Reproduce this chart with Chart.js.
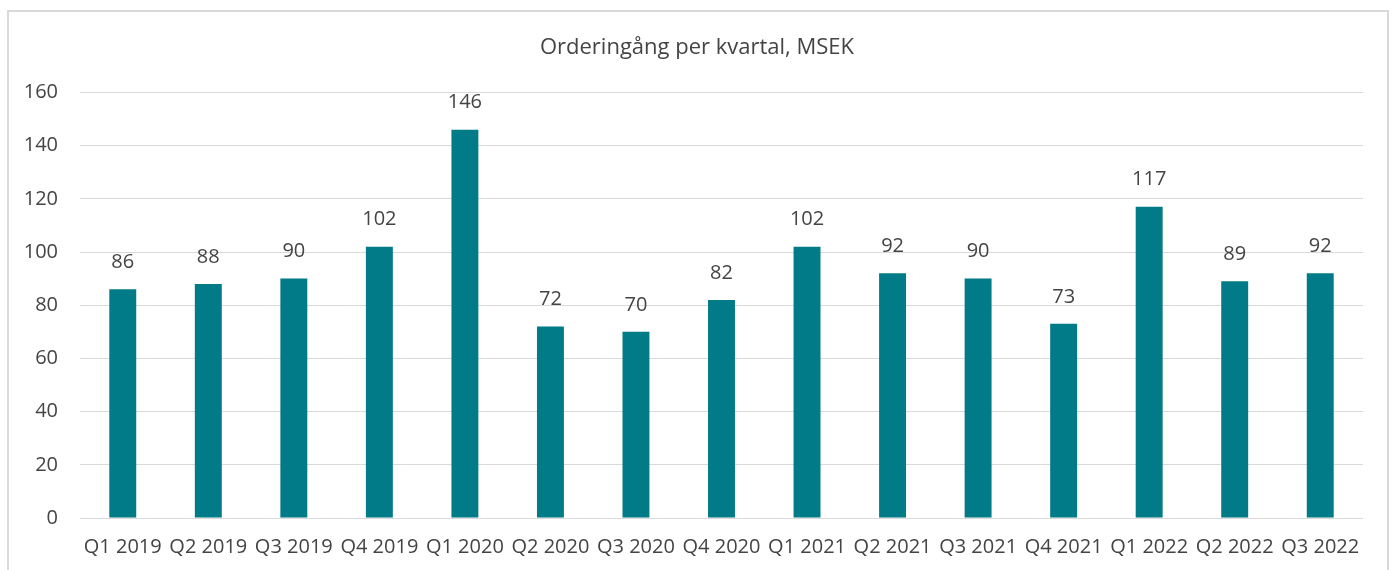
<!DOCTYPE html>
<html>
<head>
<meta charset="utf-8">
<script src="https://cdn.jsdelivr.net/npm/chart.js@4/dist/chart.umd.min.js"></script>
<style>
  html, body { margin: 0; padding: 0; background: #fff; }
  #wrap { position: relative; width: 1394px; height: 570px; }
  #frame { position: absolute; left: 7px; top: 10px; width: 1378px; height: 580px;
           border: 2px solid #d9d9d9; pointer-events: none; }
</style>
</head>
<body>
<div id="wrap">
  <canvas id="bar-chart" width="1394" height="570"></canvas>
  <div id="frame"></div>
</div>
<script>
// data
const quarters = ["Q1 2019", "Q2 2019", "Q3 2019", "Q4 2019",
    "Q1 2020", "Q2 2020", "Q3 2020", "Q4 2020",
    "Q1 2021", "Q2 2021", "Q3 2021", "Q4 2021",
    "Q1 2022", "Q2 2022", "Q3 2022"];
const orders = [86, 88, 90, 102, 146, 72, 70, 82, 102, 92, 90, 73, 117, 89, 92];
const yTicks = [0, 20, 40, 60, 80, 100, 120, 140, 160];
const titleText = 'Orderingång per kvartal, MSEK';

const textColor = '#444444';
const fontFamily = "'Open Sans', 'DejaVu Sans', sans-serif";

// value labels above each bar + title centred on the whole canvas
const valueLabels = {
    id: 'valueLabels',
    afterDatasetsDraw(chart) {
        const ctx = chart.ctx;
        const meta = chart.getDatasetMeta(0);
        ctx.save();
        ctx.font = `20px ${fontFamily}`;
        ctx.fillStyle = textColor;
        ctx.textAlign = 'center';
        ctx.textBaseline = 'middle';
        meta.data.forEach((bar, i) => {
            ctx.fillText(String(orders[i]), bar.x, bar.y - 27);
        });
        const tb = chart.titleBlock;
        ctx.font = `22px ${fontFamily}`;
        ctx.fillText(titleText, chart.width / 2, tb.top + 13);
        ctx.restore();
    }
};

const config = {
    type: 'bar',
    data: {
        labels: quarters,
        datasets: [{
            data: orders,
            backgroundColor: '#007b87',
            borderWidth: 0,
            barPercentage: 0.63,
            categoryPercentage: 0.5
        }]
    },
    options: {
        responsive: false,
        animation: false,
        layout: {
            padding: { top: 35, right: 31, bottom: 0, left: 0 }
        },
        plugins: {
            legend: { display: false },
            tooltip: { enabled: false },
            title: {
                display: true,
                text: titleText,
                color: 'rgba(0,0,0,0)',
                font: { family: fontFamily, size: 22, weight: 'normal' },
                padding: { top: 0, bottom: 31 }
            }
        },
        scales: {
            x: {
                afterFit: (scale) => { scale.height = 52; },
                grid: { display: false, drawTicks: false },
                border: { display: false },
                ticks: {
                    color: textColor,
                    font: { family: fontFamily, size: 20 },
                    padding: 17,
                    maxRotation: 0,
                    autoSkip: false
                }
            },
            y: {
                min: 0,
                max: 160,
                afterBuildTicks: (scale) => {
                    scale.ticks = yTicks.map(v => ({ value: v }));
                },
                afterFit: (scale) => { scale.width = 80; },
                grid: { color: '#d9d9d9', lineWidth: 1, drawTicks: false },
                border: { display: false },
                ticks: {
                    color: textColor,
                    font: { family: fontFamily, size: 20 },
                    padding: 22
                }
            }
        }
    },
    plugins: [valueLabels]
};

const myChart = new Chart(document.getElementById('bar-chart'), config);
</script>
</body>
</html>
